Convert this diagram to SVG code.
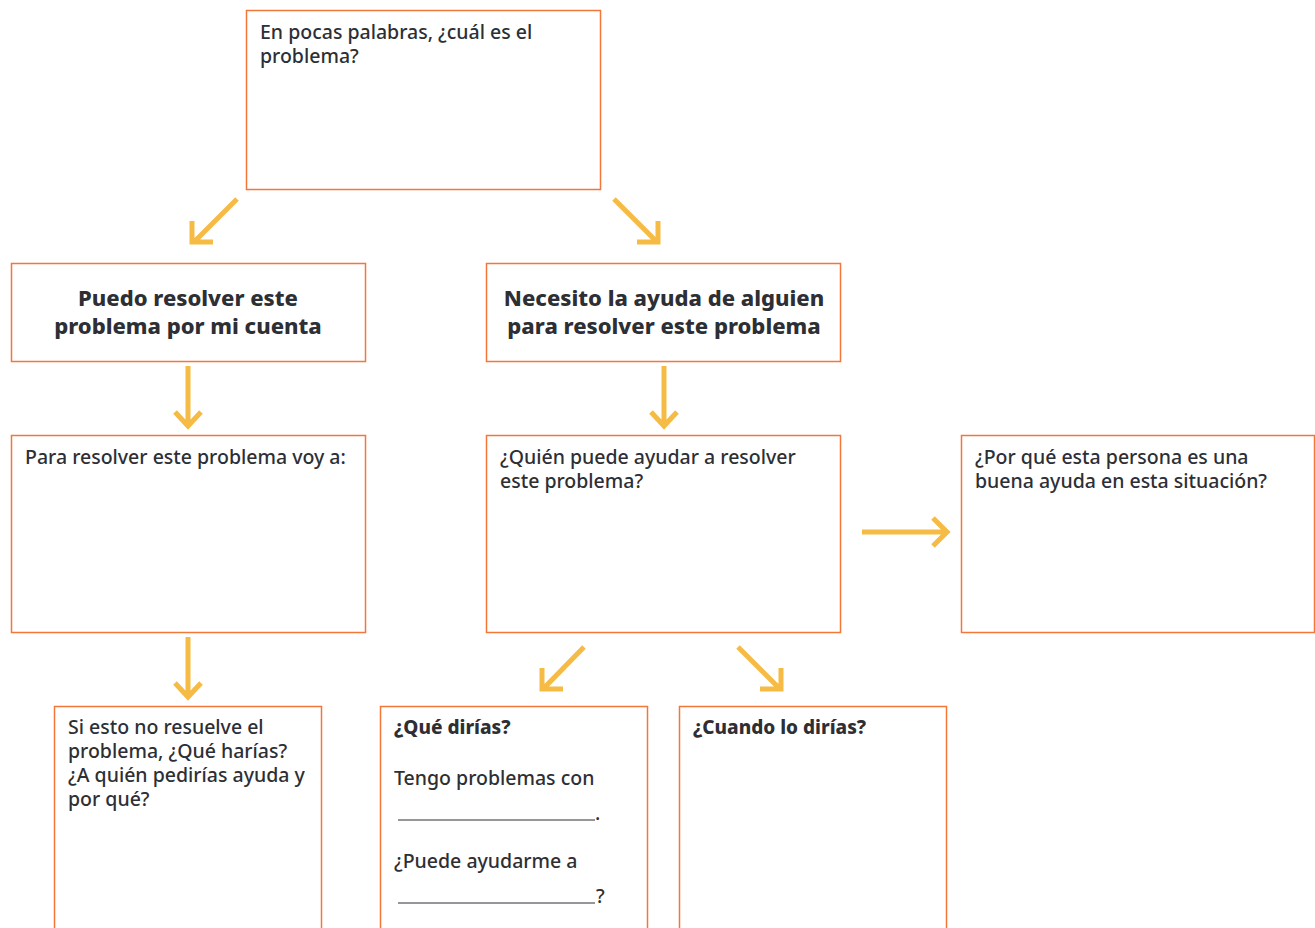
<svg xmlns="http://www.w3.org/2000/svg" width="1315" height="928" viewBox="0 0 1315 928">
<style>
.box{fill:#fff;stroke:#F4773A;stroke-width:1.5}
.arr{fill:none;stroke:#F6BB45;stroke-width:5;stroke-linejoin:miter;stroke-linecap:butt}
.t{font-family:"Noto Sans","Open Sans",sans-serif;font-size:19.5px;font-weight:500;fill:#2D2F35}
.h{font-family:"Noto Sans","Open Sans",sans-serif;font-size:22px;font-weight:800;fill:#2D2F35;text-anchor:middle}
.b{font-family:"Noto Sans","Open Sans",sans-serif;font-size:19px;font-weight:800;fill:#2D2F35}
.ul{stroke:#2D2F35;stroke-width:1}
</style>
<rect width="1315" height="928" fill="#fff"/>
<g id="connectors">
<path class="arr" d="M237,199 L193,243 M192,221 L192,242 L213,242"/>
<path class="arr" d="M614,199 L657,242 M658,221 L658,242 L637,242"/>
<path class="arr" d="M188,366 L188,426 M175,412 L188,426 L201,412"/>
<path class="arr" d="M664,366 L664,426 M651,412 L664,426 L677,412"/>
<path class="arr" d="M188,637 L188,697 M175,683 L188,697 L201,683"/>
<path class="arr" d="M862,532 L947,532 M933,518 L947,532 L933,546"/>
<path class="arr" d="M584,647 L543,689 M542,668 L542,689 L563,689"/>
<path class="arr" d="M738,647 L780,689 M781,668 L781,689 L760,689"/>
</g>
<g id="n1"><rect class="box" x="246.5" y="10.5" width="354" height="179"/>
<text class="t" x="260" y="39">En pocas palabras, ¿cuál es el</text>
<text class="t" x="260" y="63">problema?</text></g>
<g id="n2"><rect class="box" x="11.5" y="263.5" width="354" height="98"/>
<text class="h" x="188" y="306">Puedo resolver este</text>
<text class="h" x="188" y="334">problema por mi cuenta</text></g>
<g id="n3"><rect class="box" x="486.5" y="263.5" width="354" height="98"/>
<text class="h" x="664" y="306">Necesito la ayuda de alguien</text>
<text class="h" x="664" y="334">para resolver este problema</text></g>
<g id="n4"><rect class="box" x="11.5" y="435.5" width="354" height="197"/>
<text class="t" x="25" y="464">Para resolver este problema voy a:</text></g>
<g id="n5"><rect class="box" x="486.5" y="435.5" width="354" height="197"/>
<text class="t" x="500" y="464">¿Quién puede ayudar a resolver</text>
<text class="t" x="500" y="488">este problema?</text></g>
<g id="n6"><rect class="box" x="961.5" y="435.5" width="353" height="197"/>
<text class="t" x="975" y="464">¿Por qué esta persona es una</text>
<text class="t" x="975" y="488">buena ayuda en esta situación?</text></g>
<g id="n7"><rect class="box" x="54.5" y="706.5" width="267" height="240"/>
<text class="t" x="68" y="734">Si esto no resuelve el</text>
<text class="t" x="68" y="758">problema, ¿Qué harías?</text>
<text class="t" x="68" y="782">¿A quién pedirías ayuda y</text>
<text class="t" x="68" y="806">por qué?</text></g>
<g id="n8"><rect class="box" x="380.5" y="706.5" width="267" height="240"/>
<text class="b" x="394" y="734">¿Qué dirías?</text>
<text class="t" x="394" y="785">Tengo problemas con</text>
<line class="ul" x1="398" y1="820" x2="595" y2="820"/>
<text class="t" x="595" y="820">.</text>
<text class="t" x="394" y="868">¿Puede ayudarme a</text>
<line class="ul" x1="398" y1="903" x2="595" y2="903"/>
<text class="t" x="596" y="903">?</text></g>
<g id="n9"><rect class="box" x="679.5" y="706.5" width="267" height="240"/>
<text class="b" x="693" y="734">¿Cuando lo dirías?</text></g>
</svg>
